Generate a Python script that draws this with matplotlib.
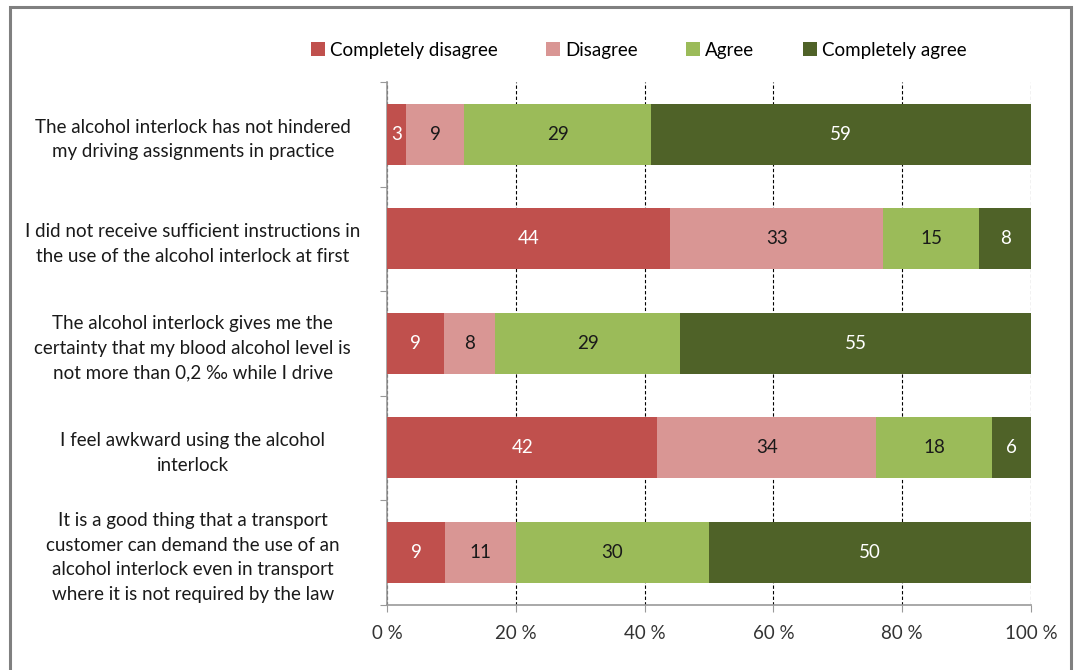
import matplotlib
matplotlib.use("Agg")
import matplotlib.pyplot as plt
from matplotlib.patches import Rectangle
import numpy as np

plt.rcParams['font.family'] = ['Lato', 'DejaVu Sans']

statements = [
    "The alcohol interlock has not hindered\nmy driving assignments in practice",
    "I did not receive sufficient instructions in\nthe use of the alcohol interlock at first",
    "The alcohol interlock gives me the\ncertainty that my blood alcohol level is\nnot more than 0,2 \u2030 while I drive",
    "I feel awkward using the alcohol\ninterlock",
    "It is a good thing that a transport\ncustomer can demand the use of an\nalcohol interlock even in transport\nwhere it is not required by the law",
]
series_names = ["Completely disagree", "Disagree", "Agree", "Completely agree"]
completely_disagree = [3, 44, 9, 42, 9]
disagree = [9, 33, 8, 34, 11]
agree = [29, 15, 29, 18, 30]
completely_agree = [59, 8, 55, 6, 50]
x_ticks = [0, 20, 40, 60, 80, 100]
x_tick_labels = ["0 %", "20 %", "40 %", "60 %", "80 %", "100 %"]

colors = ["#c0504d", "#d99694", "#9bbb59", "#4f6228"]
text_colors = ["white", "#1a1a1a", "#1a1a1a", "white"]

data = np.array([completely_disagree, disagree, agree, completely_agree], dtype=float)
shares = data / data.sum(axis=0) * 100

fig = plt.figure(figsize=(10.77, 6.70), dpi=100)
ax = fig.add_axes([387 / 1077, 1 - 604.5 / 670, (1031 - 387) / 1077, (604.5 - 82) / 670])

n = len(statements)
y = np.arange(n)
left = np.zeros(n)
for i, name in enumerate(series_names):
    ax.barh(y, shares[i], left=left, height=0.585, color=colors[i],
            label=name, zorder=3, linewidth=0)
    for j in range(n):
        ax.text(left[j] + shares[i][j] / 2, y[j], f"{int(data[i][j])}",
                ha="center", va="center", color=text_colors[i], fontsize=13.5, zorder=4)
    left += shares[i]

ax.set_xlim(0, 100)
ax.set_ylim(n - 0.5, -0.5)
ax.set_xticks(x_ticks)
ax.set_xticklabels(x_tick_labels, fontsize=13.5, color="#333333")
ax.set_yticks(np.arange(-0.5, n, 1.0))
ax.set_yticklabels([])
ax.set_yticks(y, minor=True)
ax.set_yticklabels(statements, minor=True, fontsize=13.5, color="#1a1a1a",
                   ha="center", multialignment="center")
ax.tick_params(axis="y", which="minor", length=0, pad=10)
ax.tick_params(axis="y", which="major", length=5, color="#999999", direction="out")
ax.tick_params(axis="x", length=5, color="#999999", direction="out", pad=10)
for lbl in ax.get_yticklabels(minor=True):
    lbl.set_x(-0.28)
    lbl.set_horizontalalignment("center")
    lbl.set_linespacing(1.55)

ax.xaxis.grid(True, linestyle=(0, (3, 2)), color="black", linewidth=0.8, zorder=0)
ax.set_axisbelow(True)
for side in ["top", "right"]:
    ax.spines[side].set_visible(False)
for side in ["left", "bottom"]:
    ax.spines[side].set_color("#999999")
    ax.spines[side].set_linewidth(1.2)

fig.legend(loc="upper center", bbox_to_anchor=(0.593, 0.963), ncol=4, frameon=False,
           fontsize=13.5, handlelength=0.75, handleheight=0.75, handletextpad=0.25,
           columnspacing=2.6)

frame = Rectangle((10 / 1077, -0.1), (1071 - 10) / 1077, 1.1 - 7 / 670,
                  transform=fig.transFigure, fill=False, edgecolor="#808080",
                  linewidth=2.2, zorder=10)
fig.patches.append(frame)

fig.savefig("out.png", dpi=100)
